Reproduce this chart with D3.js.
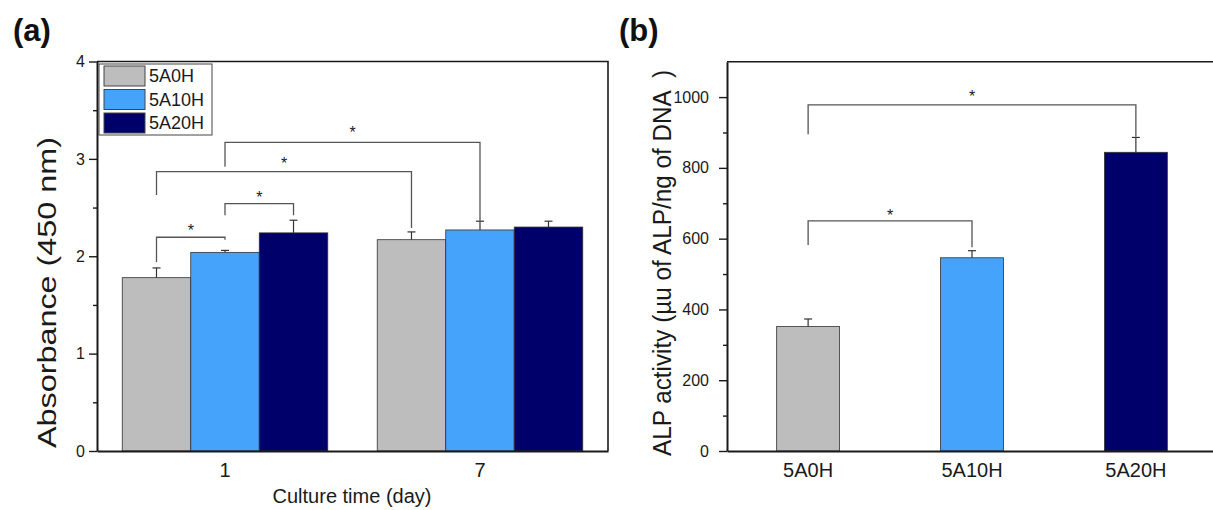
<!DOCTYPE html>
<html lang="en">
<head>
<meta charset="UTF-8">
<title>Absorbance and ALP activity</title>
<script src="https://cdn.jsdelivr.net/npm/d3@7"></script>
<style>
  html, body { margin: 0; padding: 0; background: #fff; }
  svg { display: block; font-family: "Liberation Sans", Arial, sans-serif; }
</style>
</head>
<body>
<script>
// ---- data ----
const days = ["1", "7"];
const groups = ["5A0H", "5A10H", "5A20H"];
const colors = ["#bdbdbd", "#45a3fc", "#00006a"];

const absorbanceDay1 = [1.78, 2.04, 2.24];
const absorbanceDay7 = [2.17, 2.27, 2.30];
const absErrDay1 = [0.10, 0.02, 0.13];
const absErrDay7 = [0.08, 0.09, 0.06];
const absTicks = [0, 1, 2, 3, 4];
const absMinorTicks = [0.5, 1.5, 2.5, 3.5];

const alpMean = [352, 546, 844];
const alpErr = [21, 20, 42];
const alpTicks = [0, 200, 400, 600, 800, 1000];
const alpMinorTicks = [100, 300, 500, 700, 900];

// significance brackets: left bar, right bar, left foot, top, right foot, star
const absBrackets = [
  { a: ["1", "5A0H"],  b: ["1", "5A10H"], y0: 1.94, top: 2.195, y1: 2.17, star: 2.30 },
  { a: ["1", "5A10H"], b: ["1", "5A20H"], y0: 2.42, top: 2.54,  y1: 2.42, star: 2.64 },
  { a: ["1", "5A0H"],  b: ["7", "5A0H"],  y0: 2.63, top: 2.87,  y1: 2.29, star: 2.99 },
  { a: ["1", "5A10H"], b: ["7", "5A10H"], y0: 2.92, top: 3.17,  y1: 2.36, star: 3.31 }
];
const alpBrackets = [
  { a: "5A0H", b: "5A10H", y0: 582, top: 650, y1: 576, star: 676 },
  { a: "5A0H", b: "5A20H", y0: 895, top: 978, y1: 888, star: 1012 }
];

const absRows = [];
groups.forEach((g, i) => {
  absRows.push({ day: "1", group: g, i: i, v: absorbanceDay1[i], e: absErrDay1[i] });
  absRows.push({ day: "7", group: g, i: i, v: absorbanceDay7[i], e: absErrDay7[i] });
});
const alpRows = groups.map((g, i) => ({ group: g, i: i, v: alpMean[i], e: alpErr[i] }));

const W = 1213, H = 510;
const ink = "#1a1a1a";
const bracketColor = "#555";
const fontFamily = "Liberation Sans, Arial, sans-serif";

const svg = d3.select("body").append("svg")
  .attr("width", W)
  .attr("height", H);

function styleAxis(g, size) {
  g.attr("font-size", size).attr("font-family", fontFamily);
  g.selectAll(".domain").attr("stroke", ink).attr("stroke-width", 2);
  g.selectAll(".tick line").attr("stroke", ink).attr("stroke-width", 1.4);
  g.selectAll(".tick text").attr("fill", ink);
}

// ================= panel (a) =================
const a = { left: 97, right: 608, top: 61.5, bottom: 451 };

const xDay = d3.scaleBand()
  .domain(days)
  .range([a.left, a.right])
  .paddingInner(0.194)
  .paddingOuter(0.099);

const xGroup = d3.scaleBand()
  .domain(groups)
  .range([0, xDay.bandwidth()]);

const yAbs = d3.scaleLinear()
  .domain([0, 4])
  .range([a.bottom, a.top]);

const barCenterA = (day, g) => xDay(day) + xGroup(g) + xGroup.bandwidth() / 2;

const gA = svg.append("g");

// bars
gA.append("g").selectAll("rect")
  .data(absRows)
  .enter()
  .append("rect")
  .attr("x", d => xDay(d.day) + xGroup(d.group))
  .attr("y", d => yAbs(d.v))
  .attr("width", xGroup.bandwidth())
  .attr("height", d => yAbs(0) - yAbs(d.v))
  .attr("fill", d => colors[d.i])
  .attr("stroke", "#333")
  .attr("stroke-width", 0.8);

// error bars (upper only)
const errA = gA.append("g").attr("stroke", "#333").attr("stroke-width", 1.2);
errA.selectAll("line.v").data(absRows).enter().append("line")
  .attr("x1", d => barCenterA(d.day, d.group))
  .attr("x2", d => barCenterA(d.day, d.group))
  .attr("y1", d => yAbs(d.v))
  .attr("y2", d => yAbs(d.v + d.e));
errA.selectAll("line.c").data(absRows).enter().append("line")
  .attr("x1", d => barCenterA(d.day, d.group) - 4)
  .attr("x2", d => barCenterA(d.day, d.group) + 4)
  .attr("y1", d => yAbs(d.v + d.e))
  .attr("y2", d => yAbs(d.v + d.e));

// brackets
const brA = gA.append("g");
brA.selectAll("path").data(absBrackets).enter().append("path")
  .attr("fill", "none")
  .attr("stroke", bracketColor)
  .attr("stroke-width", 1.3)
  .attr("d", d => {
    const x0 = barCenterA(d.a[0], d.a[1]), x1 = barCenterA(d.b[0], d.b[1]);
    return `M${x0},${yAbs(d.y0)}V${yAbs(d.top)}H${x1}V${yAbs(d.y1)}`;
  });
brA.selectAll("text").data(absBrackets).enter().append("text")
  .attr("x", d => (barCenterA(d.a[0], d.a[1]) + barCenterA(d.b[0], d.b[1])) / 2)
  .attr("y", d => yAbs(d.star) + 9)
  .attr("text-anchor", "middle")
  .attr("font-size", 16)
  .attr("fill", ink)
  .text("*");

// axes
gA.append("g")
  .attr("transform", `translate(${a.left},0)`)
  .call(d3.axisLeft(yAbs).tickValues(absTicks).tickFormat(d3.format("d"))
    .tickSize(8).tickSizeOuter(0).tickPadding(4))
  .call(styleAxis, 16);
gA.append("g")
  .attr("transform", `translate(${a.left},0)`)
  .call(d3.axisLeft(yAbs).tickValues(absMinorTicks).tickSize(4).tickFormat(""))
  .call(g => g.select(".domain").remove())
  .call(styleAxis, 16);

gA.append("g")
  .attr("transform", `translate(0,${a.bottom})`)
  .call(d3.axisBottom(xDay).tickSize(0).tickSizeOuter(0).tickPadding(12))
  .call(styleAxis, 20);

// frame top & right
gA.append("path")
  .attr("fill", "none")
  .attr("stroke", ink)
  .attr("stroke-width", 1.6)
  .attr("d", `M${a.left},${a.top}H${a.right}V${a.bottom}`);

// legend
const legend = gA.append("g");
legend.append("rect")
  .attr("x", 99).attr("y", 64)
  .attr("width", 113).attr("height", 71)
  .attr("fill", "#fff")
  .attr("stroke", "#444")
  .attr("stroke-width", 1);
const legRow = legend.selectAll("g.row").data(groups).enter().append("g")
  .attr("transform", (d, i) => `translate(104,${66 + i * 23.5})`);
legRow.append("rect")
  .attr("width", 41).attr("height", 20)
  .attr("fill", (d, i) => colors[i])
  .attr("stroke", "#444")
  .attr("stroke-width", 1);
legRow.append("text")
  .attr("x", 45).attr("y", 16)
  .attr("font-size", 18)
  .attr("fill", ink)
  .text(d => d);

// axis titles
gA.append("text")
  .attr("transform", `translate(56,${(137 + 448) / 2}) rotate(-90)`)
  .attr("text-anchor", "middle")
  .attr("font-size", 25)
  .attr("textLength", 311)
  .attr("lengthAdjust", "spacingAndGlyphs")
  .attr("fill", ink)
  .text("Absorbance (450 nm)");

gA.append("text")
  .attr("x", 352).attr("y", 503)
  .attr("text-anchor", "middle")
  .attr("font-size", 20)
  .attr("fill", ink)
  .text("Culture time (day)");

svg.append("text")
  .attr("x", 13).attr("y", 41)
  .attr("font-size", 31)
  .attr("font-weight", "bold")
  .attr("fill", "#111")
  .text("(a)");

// ================= panel (b) =================
const b = { left: 727, right: 1217, top: 61.7, bottom: 451 };

const xAlp = d3.scaleBand()
  .domain(groups)
  .range([b.left, b.right])
  .paddingInner(0.616)
  .paddingOuter(0.303);

const yAlp = d3.scaleLinear()
  .domain([0, 1100])
  .range([b.bottom, b.top]);

const barCenterB = g => xAlp(g) + xAlp.bandwidth() / 2;

const gB = svg.append("g");

gB.append("g").selectAll("rect")
  .data(alpRows)
  .enter()
  .append("rect")
  .attr("x", d => xAlp(d.group))
  .attr("y", d => yAlp(d.v))
  .attr("width", xAlp.bandwidth())
  .attr("height", d => yAlp(0) - yAlp(d.v))
  .attr("fill", d => colors[d.i])
  .attr("stroke", "#333")
  .attr("stroke-width", 0.8);

const errB = gB.append("g").attr("stroke", "#333").attr("stroke-width", 1.2);
errB.selectAll("line.v").data(alpRows).enter().append("line")
  .attr("x1", d => barCenterB(d.group))
  .attr("x2", d => barCenterB(d.group))
  .attr("y1", d => yAlp(d.v))
  .attr("y2", d => yAlp(d.v + d.e));
errB.selectAll("line.c").data(alpRows).enter().append("line")
  .attr("x1", d => barCenterB(d.group) - 4)
  .attr("x2", d => barCenterB(d.group) + 4)
  .attr("y1", d => yAlp(d.v + d.e))
  .attr("y2", d => yAlp(d.v + d.e));

const brB = gB.append("g");
brB.selectAll("path").data(alpBrackets).enter().append("path")
  .attr("fill", "none")
  .attr("stroke", bracketColor)
  .attr("stroke-width", 1.3)
  .attr("d", d => `M${barCenterB(d.a)},${yAlp(d.y0)}V${yAlp(d.top)}H${barCenterB(d.b)}V${yAlp(d.y1)}`);
brB.selectAll("text").data(alpBrackets).enter().append("text")
  .attr("x", d => (barCenterB(d.a) + barCenterB(d.b)) / 2)
  .attr("y", d => yAlp(d.star) + 9)
  .attr("text-anchor", "middle")
  .attr("font-size", 16)
  .attr("fill", ink)
  .text("*");

gB.append("g")
  .attr("transform", `translate(${b.left},0)`)
  .call(d3.axisLeft(yAlp).tickValues(alpTicks).tickFormat(d3.format("d"))
    .tickSize(8).tickSizeOuter(0).tickPadding(10))
  .call(styleAxis, 16);
gB.append("g")
  .attr("transform", `translate(${b.left},0)`)
  .call(d3.axisLeft(yAlp).tickValues(alpMinorTicks).tickSize(4).tickFormat(""))
  .call(g => g.select(".domain").remove())
  .call(styleAxis, 16);

gB.append("g")
  .attr("transform", `translate(0,${b.bottom})`)
  .call(d3.axisBottom(xAlp).tickSize(0).tickSizeOuter(0).tickPadding(12))
  .call(styleAxis, 20);

gB.append("path")
  .attr("fill", "none")
  .attr("stroke", ink)
  .attr("stroke-width", 1.6)
  .attr("d", `M${b.left},${b.top}H${b.right}V${b.bottom}`);

gB.append("text")
  .attr("transform", `translate(671,${(70 + 456) / 2}) rotate(-90)`)
  .attr("text-anchor", "middle")
  .attr("font-size", 25)
  .attr("textLength", 386)
  .attr("lengthAdjust", "spacingAndGlyphs")
  .style("white-space", "pre")
  .attr("fill", ink)
  .text("ALP activity (\u00b5u of ALP/ng of DNA  )");

svg.append("text")
  .attr("x", 619).attr("y", 41)
  .attr("font-size", 31)
  .attr("font-weight", "bold")
  .attr("fill", "#111")
  .text("(b)");
</script>
</body>
</html>
